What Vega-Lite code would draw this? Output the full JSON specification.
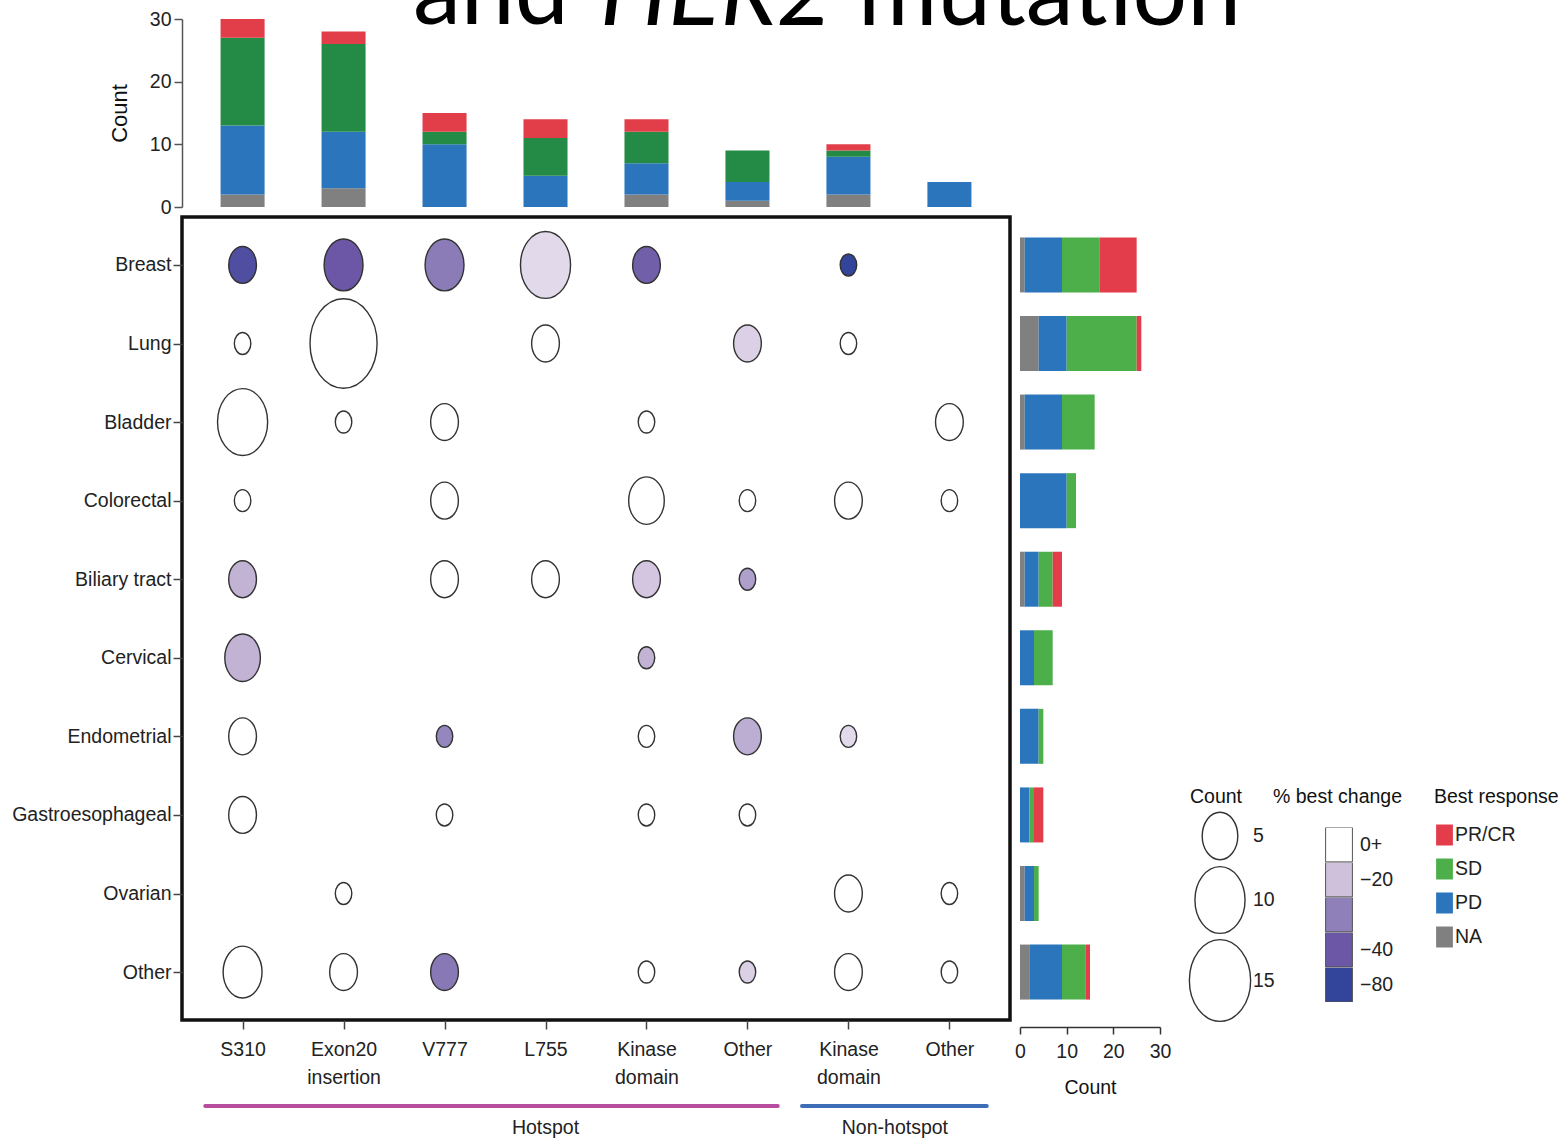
{
  "$schema": "https://vega.github.io/schema/vega-lite/v6.json",
  "padding": {"left": 9, "top": -54, "right": 0, "bottom": 0},
  "title": {
    "text": "and",
    "font": "Lato",
    "fontSize": 96.5,
    "fontWeight": "normal",
    "color": "#000000",
    "anchor": "start",
    "dx": 403,
    "offset": -96.5
  },
  "datasets": {
    "by_mutation": [
      {"mutation": "S310", "response": "NA", "n": 2},
      {"mutation": "S310", "response": "PD", "n": 11},
      {"mutation": "S310", "response": "SD", "n": 14},
      {"mutation": "S310", "response": "PR/CR", "n": 3},
      {"mutation": "Exon20 insertion", "response": "NA", "n": 3},
      {"mutation": "Exon20 insertion", "response": "PD", "n": 9},
      {"mutation": "Exon20 insertion", "response": "SD", "n": 14},
      {"mutation": "Exon20 insertion", "response": "PR/CR", "n": 2},
      {"mutation": "V777", "response": "PD", "n": 10},
      {"mutation": "V777", "response": "SD", "n": 2},
      {"mutation": "V777", "response": "PR/CR", "n": 3},
      {"mutation": "L755", "response": "PD", "n": 5},
      {"mutation": "L755", "response": "SD", "n": 6},
      {"mutation": "L755", "response": "PR/CR", "n": 3},
      {"mutation": "Kinase domain (hotspot)", "response": "NA", "n": 2},
      {"mutation": "Kinase domain (hotspot)", "response": "PD", "n": 5},
      {"mutation": "Kinase domain (hotspot)", "response": "SD", "n": 5},
      {"mutation": "Kinase domain (hotspot)", "response": "PR/CR", "n": 2},
      {"mutation": "Other (hotspot)", "response": "NA", "n": 1},
      {"mutation": "Other (hotspot)", "response": "PD", "n": 3},
      {"mutation": "Other (hotspot)", "response": "SD", "n": 5},
      {"mutation": "Kinase domain (non-hotspot)", "response": "NA", "n": 2},
      {"mutation": "Kinase domain (non-hotspot)", "response": "PD", "n": 6},
      {"mutation": "Kinase domain (non-hotspot)", "response": "SD", "n": 1},
      {"mutation": "Kinase domain (non-hotspot)", "response": "PR/CR", "n": 1},
      {"mutation": "Other (non-hotspot)", "response": "PD", "n": 4}
    ],
    "by_tumor": [
      {"tumor": "Breast", "response": "NA", "n": 1},
      {"tumor": "Breast", "response": "PD", "n": 8},
      {"tumor": "Breast", "response": "SD", "n": 8},
      {"tumor": "Breast", "response": "PR/CR", "n": 8},
      {"tumor": "Lung", "response": "NA", "n": 4},
      {"tumor": "Lung", "response": "PD", "n": 6},
      {"tumor": "Lung", "response": "SD", "n": 15},
      {"tumor": "Lung", "response": "PR/CR", "n": 1},
      {"tumor": "Bladder", "response": "NA", "n": 1},
      {"tumor": "Bladder", "response": "PD", "n": 8},
      {"tumor": "Bladder", "response": "SD", "n": 7},
      {"tumor": "Colorectal", "response": "PD", "n": 10},
      {"tumor": "Colorectal", "response": "SD", "n": 2},
      {"tumor": "Biliary tract", "response": "NA", "n": 1},
      {"tumor": "Biliary tract", "response": "PD", "n": 3},
      {"tumor": "Biliary tract", "response": "SD", "n": 3},
      {"tumor": "Biliary tract", "response": "PR/CR", "n": 2},
      {"tumor": "Cervical", "response": "PD", "n": 3},
      {"tumor": "Cervical", "response": "SD", "n": 4},
      {"tumor": "Endometrial", "response": "PD", "n": 4},
      {"tumor": "Endometrial", "response": "SD", "n": 1},
      {"tumor": "Gastroesophageal", "response": "PD", "n": 2},
      {"tumor": "Gastroesophageal", "response": "SD", "n": 1},
      {"tumor": "Gastroesophageal", "response": "PR/CR", "n": 2},
      {"tumor": "Ovarian", "response": "NA", "n": 1},
      {"tumor": "Ovarian", "response": "PD", "n": 2},
      {"tumor": "Ovarian", "response": "SD", "n": 1},
      {"tumor": "Other", "response": "NA", "n": 2},
      {"tumor": "Other", "response": "PD", "n": 7},
      {"tumor": "Other", "response": "SD", "n": 5},
      {"tumor": "Other", "response": "PR/CR", "n": 1}
    ],
    "cells": [
      {"tumor": "Breast", "mutation": "S310", "n": 3, "best_change": -60},
      {"tumor": "Breast", "mutation": "Exon20 insertion", "n": 6, "best_change": -40},
      {"tumor": "Breast", "mutation": "V777", "n": 6, "best_change": -31},
      {"tumor": "Breast", "mutation": "L755", "n": 10, "best_change": -12},
      {"tumor": "Breast", "mutation": "Kinase domain (hotspot)", "n": 3, "best_change": -38},
      {"tumor": "Breast", "mutation": "Kinase domain (non-hotspot)", "n": 1, "best_change": -80},
      {"tumor": "Lung", "mutation": "S310", "n": 1, "best_change": 0},
      {"tumor": "Lung", "mutation": "Exon20 insertion", "n": 18, "best_change": 0},
      {"tumor": "Lung", "mutation": "L755", "n": 3, "best_change": 0},
      {"tumor": "Lung", "mutation": "Other (hotspot)", "n": 3, "best_change": -15},
      {"tumor": "Lung", "mutation": "Kinase domain (non-hotspot)", "n": 1, "best_change": 0},
      {"tumor": "Bladder", "mutation": "S310", "n": 10, "best_change": 0},
      {"tumor": "Bladder", "mutation": "Exon20 insertion", "n": 1, "best_change": 0},
      {"tumor": "Bladder", "mutation": "V777", "n": 3, "best_change": 0},
      {"tumor": "Bladder", "mutation": "Kinase domain (hotspot)", "n": 1, "best_change": 0},
      {"tumor": "Bladder", "mutation": "Other (non-hotspot)", "n": 3, "best_change": 0},
      {"tumor": "Colorectal", "mutation": "S310", "n": 1, "best_change": 0},
      {"tumor": "Colorectal", "mutation": "V777", "n": 3, "best_change": 0},
      {"tumor": "Colorectal", "mutation": "Kinase domain (hotspot)", "n": 5, "best_change": 0},
      {"tumor": "Colorectal", "mutation": "Other (hotspot)", "n": 1, "best_change": 0},
      {"tumor": "Colorectal", "mutation": "Kinase domain (non-hotspot)", "n": 3, "best_change": 0},
      {"tumor": "Colorectal", "mutation": "Other (non-hotspot)", "n": 1, "best_change": 0},
      {"tumor": "Biliary tract", "mutation": "S310", "n": 3, "best_change": -22},
      {"tumor": "Biliary tract", "mutation": "V777", "n": 3, "best_change": 0},
      {"tumor": "Biliary tract", "mutation": "L755", "n": 3, "best_change": 0},
      {"tumor": "Biliary tract", "mutation": "Kinase domain (hotspot)", "n": 3, "best_change": -18},
      {"tumor": "Biliary tract", "mutation": "Other (hotspot)", "n": 1, "best_change": -25},
      {"tumor": "Cervical", "mutation": "S310", "n": 5, "best_change": -22},
      {"tumor": "Cervical", "mutation": "Kinase domain (hotspot)", "n": 1, "best_change": -22},
      {"tumor": "Endometrial", "mutation": "S310", "n": 3, "best_change": 0},
      {"tumor": "Endometrial", "mutation": "V777", "n": 1, "best_change": -29},
      {"tumor": "Endometrial", "mutation": "Kinase domain (hotspot)", "n": 1, "best_change": 0},
      {"tumor": "Endometrial", "mutation": "Other (hotspot)", "n": 3, "best_change": -23},
      {"tumor": "Endometrial", "mutation": "Kinase domain (non-hotspot)", "n": 1, "best_change": -12},
      {"tumor": "Gastroesophageal", "mutation": "S310", "n": 3, "best_change": 0},
      {"tumor": "Gastroesophageal", "mutation": "V777", "n": 1, "best_change": 0},
      {"tumor": "Gastroesophageal", "mutation": "Kinase domain (hotspot)", "n": 1, "best_change": 0},
      {"tumor": "Gastroesophageal", "mutation": "Other (hotspot)", "n": 1, "best_change": 0},
      {"tumor": "Ovarian", "mutation": "Exon20 insertion", "n": 1, "best_change": 0},
      {"tumor": "Ovarian", "mutation": "Kinase domain (non-hotspot)", "n": 3, "best_change": 0},
      {"tumor": "Ovarian", "mutation": "Other (non-hotspot)", "n": 1, "best_change": 0},
      {"tumor": "Other", "mutation": "S310", "n": 6, "best_change": 0},
      {"tumor": "Other", "mutation": "Exon20 insertion", "n": 3, "best_change": 0},
      {"tumor": "Other", "mutation": "V777", "n": 3, "best_change": -32},
      {"tumor": "Other", "mutation": "Kinase domain (hotspot)", "n": 1, "best_change": 0},
      {"tumor": "Other", "mutation": "Other (hotspot)", "n": 1, "best_change": -15},
      {"tumor": "Other", "mutation": "Kinase domain (non-hotspot)", "n": 3, "best_change": 0},
      {"tumor": "Other", "mutation": "Other (non-hotspot)", "n": 1, "best_change": 0}
    ],
    "groups": [
      {"group": "Hotspot", "start": -0.37, "end": 5.3, "label_at": 3.0},
      {"group": "Non-hotspot", "start": 5.54, "end": 7.37, "label_at": 6.46}
    ]
  },
  "bounds": "flush",
  "spacing": 10,
  "columns": 2,
  "resolve": {
    "scale": {"color": "independent", "x": "independent", "y": "independent"},
    "legend": {"color": "independent", "size": "independent", "fill": "independent"}
  },
  "concat": [
    {
      "width": 828,
      "height": 188,
      "title": {
        "text": "HER2",
        "font": "Lato",
        "fontSize": 96.5,
        "fontWeight": "normal",
        "fontStyle": "italic",
        "color": "#000000",
        "anchor": "start",
        "frame": "group",
        "dx": 418,
        "offset": -36,
        "limit": 2000
      },
      "data": {"name": "by_mutation"},
      "transform": [{"calculate": "indexof(['NA','PD','SD','PR/CR'], datum.response)", "as": "stack_rank"}],
      "mark": {"type": "bar"},
      "encoding": {
        "x": {
          "field": "mutation", "type": "nominal",
          "scale": {
            "domain": ["S310", "Exon20 insertion", "V777", "L755", "Kinase domain (hotspot)", "Other (hotspot)", "Kinase domain (non-hotspot)", "Other (non-hotspot)"],
            "paddingInner": 0.564, "paddingOuter": 0.382
          },
          "axis": null
        },
        "y": {
          "field": "n", "type": "quantitative", "stack": "zero",
          "scale": {"domain": [0, 30], "nice": false},
          "axis": {
            "values": [0, 10, 20, 30], "title": "Count",
            "titleFontSize": 22, "titlePadding": 18,
            "tickSize": 8, "labelPadding": 3, "labelFlush": false,
            "domainColor": "#555555", "domainWidth": 1.5, "tickColor": "#555555", "tickWidth": 1.5
          }
        },
        "color": {
          "field": "response", "type": "nominal",
          "scale": {"domain": ["PR/CR", "SD", "PD", "NA"], "range": ["#e23e4a", "#238b45", "#2b75bc", "#808080"]},
          "legend": null
        },
        "order": {"field": "stack_rank", "type": "quantitative"}
      }
    },
    {
      "width": 140,
      "height": 188,
      "title": {
        "text": "mutation",
        "font": "Lato",
        "fontSize": 96.5,
        "fontWeight": "normal",
        "color": "#000000",
        "anchor": "start",
        "frame": "group",
        "dx": -162,
        "offset": -26,
        "limit": 2000
      },
      "data": {"values": []},
      "mark": "point"
    },
    {
      "width": 828,
      "height": 803,
      "view": {"stroke": "#111111", "strokeWidth": 3.5},
      "data": {"name": "cells"},
      "mark": {
        "type": "point",
        "filled": true,
        "shape": "M-0.75,0A0.75,1,0,1,1,0.75,0A0.75,1,0,1,1,-0.75,0Z",
        "stroke": "#333333",
        "strokeWidth": 1.4,
        "opacity": 1
      },
      "encoding": {
        "x": {
          "field": "mutation", "type": "nominal",
          "scale": {
            "type": "point",
            "domain": ["S310", "Exon20 insertion", "V777", "L755", "Kinase domain (hotspot)", "Other (hotspot)", "Kinase domain (non-hotspot)", "Other (non-hotspot)"],
            "padding": 0.6
          },
          "axis": {
            "title": null, "domain": false, "tickSize": 9, "tickWidth": 1.5, "tickColor": "#444444",
            "labelPadding": 11, "labelAngle": 0, "labelLineHeight": 28, "labelBaseline": "top",
            "labelExpr": "datum.value == 'Exon20 insertion' ? ['Exon20', 'insertion'] : indexof(datum.value, 'Kinase') == 0 ? ['Kinase', 'domain'] : indexof(datum.value, 'Other') == 0 ? 'Other' : datum.value"
          }
        },
        "y": {
          "field": "tumor", "type": "nominal",
          "scale": {
            "type": "point",
            "domain": ["Breast", "Lung", "Bladder", "Colorectal", "Biliary tract", "Cervical", "Endometrial", "Gastroesophageal", "Ovarian", "Other"],
            "padding": 0.61
          },
          "axis": {"title": null, "domain": false, "tickSize": 9, "tickWidth": 1.5, "tickColor": "#444444", "labelPadding": 2}
        },
        "size": {
          "field": "n", "type": "quantitative",
          "scale": {"domain": [0, 18], "range": [42, 7998], "zero": false},
          "legend": {
            "title": "Count", "values": [5, 10, 15],
            "orient": "none", "legendX": 1008, "legendY": 571,
            "symbolType": "M-0.75,0A0.75,1,0,1,1,0.75,0A0.75,1,0,1,1,-0.75,0Z",
            "symbolFillColor": "#ffffff", "symbolStrokeColor": "#333333", "symbolStrokeWidth": 1.4,
            "symbolOffset": -12, "titlePadding": 4, "rowPadding": 0, "labelOffset": -9
          }
        },
        "fill": {
          "field": "best_change", "type": "quantitative",
          "scale": {
            "domain": [-80, -40, -30, -20, 0],
            "range": ["#33449b", "#6b57a5", "#8f80ba", "#cfc0dc", "#ffffff"],
            "interpolate": "rgb", "clamp": true
          },
          "legend": {
            "type": "symbol", "title": "% best change",
            "values": [0, -20, -30, -40, -80],
            "orient": "none", "legendX": 1091, "legendY": 571,
            "symbolType": "M-0.78,-1L0.78,-1L0.78,1L-0.78,1Z", "symbolSize": 1183,
            "symbolStrokeColor": "#555555", "symbolStrokeWidth": 1,
            "clipHeight": 34.4,
            "symbolOffset": 48, "titlePadding": 20, "rowPadding": 0, "labelOffset": 3,
            "labelExpr": "datum.value == 0 ? '0+' : datum.value == -30 ? '' : '\u2212' + abs(datum.value)"
          }
        }
      }
    },
    {
      "width": 140,
      "height": 803,
      "data": {"name": "by_tumor"},
      "transform": [{"calculate": "indexof(['NA','PD','SD','PR/CR'], datum.response)", "as": "stack_rank"}],
      "mark": {"type": "bar"},
      "encoding": {
        "y": {
          "field": "tumor", "type": "nominal",
          "scale": {
            "domain": ["Breast", "Lung", "Bladder", "Colorectal", "Biliary tract", "Cervical", "Endometrial", "Gastroesophageal", "Ovarian", "Other"],
            "paddingInner": 0.3, "paddingOuter": 0.26
          },
          "axis": null
        },
        "x": {
          "field": "n", "type": "quantitative", "stack": "zero",
          "scale": {"domain": [0, 30], "nice": false},
          "axis": {
            "values": [0, 10, 20, 30], "title": "Count", "offset": 7,
            "tickSize": 7, "labelPadding": 8, "titlePadding": 18, "labelFlush": false,
            "domainColor": "#333333", "domainWidth": 1.5, "tickColor": "#333333", "tickWidth": 1.5
          }
        },
        "color": {
          "field": "response", "type": "nominal",
          "scale": {"domain": ["PR/CR", "SD", "PD", "NA"], "range": ["#e33d4b", "#4daf4a", "#2b75bc", "#808080"]},
          "legend": {
            "title": "Best response",
            "orient": "none", "legendX": 414, "legendY": 571,
            "symbolType": "M-0.8,-1L0.8,-1L0.8,1L-0.8,1Z", "symbolSize": 441,
            "symbolStrokeWidth": 0, "titlePadding": 17, "rowPadding": 13, "labelOffset": 0
          }
        },
        "order": {"field": "stack_rank", "type": "quantitative"}
      }
    },
    {
      "width": 828,
      "height": 110,
      "data": {"name": "groups"},
      "layer": [
        {
          "mark": {"type": "rule", "strokeWidth": 4, "strokeCap": "round"},
          "encoding": {
            "x": {"field": "start", "type": "quantitative", "scale": {"domain": [-0.6, 7.6], "nice": false, "zero": false}, "axis": null},
            "x2": {"field": "end"},
            "y": {"datum": 0.31, "type": "quantitative", "scale": {"domain": [0, 1], "nice": false}, "axis": null},
            "color": {"field": "group", "type": "nominal", "scale": {"domain": ["Hotspot", "Non-hotspot"], "range": ["#b84c9e", "#3d6db6"]}, "legend": null}
          }
        },
        {
          "mark": {"type": "text", "baseline": "middle", "fontSize": 19.5, "color": "#222222"},
          "encoding": {
            "x": {"field": "label_at", "type": "quantitative"},
            "y": {"datum": 0.11, "type": "quantitative"},
            "text": {"field": "group"}
          }
        }
      ]
    },
    {
      "width": 140,
      "height": 110,
      "data": {"values": []},
      "mark": "point"
    }
  ],
  "config": {
    "font": "Liberation Sans",
    "view": {"stroke": null},
    "axis": {
      "labelFont": "Liberation Sans",
      "labelFontSize": 19.5, "labelColor": "#222222", "labelLimit": 0,
      "titleFont": "Liberation Sans",
      "titleFontSize": 19.5, "titleFontWeight": "normal", "titleColor": "#111111",
      "grid": false, "labelOverlap": false
    },
    "legend": {
      "labelFont": "Liberation Sans",
      "labelFontSize": 19.5, "labelColor": "#222222", "labelLimit": 0,
      "titleFont": "Liberation Sans",
      "titleFontSize": 19.5, "titleFontWeight": "normal", "titleColor": "#111111", "titleLimit": 0
    },
    "text": {"font": "Liberation Sans"}
  }
}
